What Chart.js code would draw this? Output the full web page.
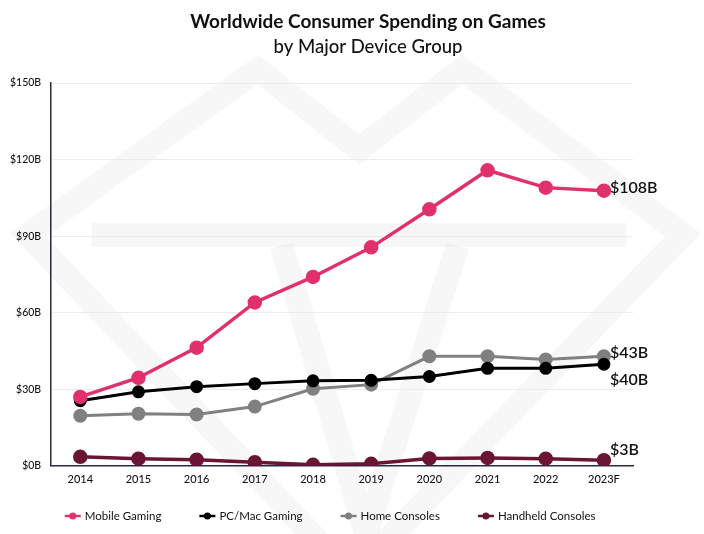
<!DOCTYPE html>
<html>
<head>
<meta charset="utf-8">
<script src="https://cdn.jsdelivr.net/npm/chart.js@4"></script>
<style>
  html, body { margin: 0; padding: 0; background: #fff; }
  #wrap { width: 704px; height: 534px; position: relative; }
</style>
</head>
<body>
<div id="wrap"><canvas id="chart"></canvas></div>
<script>
const years = ["2014", "2015", "2016", "2017", "2018", "2019", "2020", "2021", "2022", "2023F"];

const mobile   = [27, 34.5, 46.3, 64, 74, 85.6, 100.5, 115.8, 109, 107.8];
const pcMac    = [25.5, 29, 31, 32.2, 33.3, 33.5, 35, 38.2, 38.2, 39.8];
const home     = [19.6, 20.4, 20.1, 23.2, 30.2, 31.8, 42.9, 42.9, 41.7, 42.9];
const handheld = [3.5, 2.8, 2.4, 1.4, 0.4, 0.8, 2.9, 3.1, 2.8, 2.2];

const endLabels = ["$108B", "$40B", "$43B", "$3B"];
const yTicks = [0, 30, 60, 90, 120, 150];

const titleText = "Worldwide Consumer Spending on Games";
const subtitleText = "by Major Device Group";

const FONT = "Lato, 'Open Sans', sans-serif";

// two-line heading, centred a little right of the page middle like the original
const headingPlugin = {
    id: "heading",
    afterDraw(chart) {
        const ctx = chart.ctx;
        const cx = chart.width / 2 + 16;
        ctx.save();
        ctx.fillStyle = "#111";
        ctx.textAlign = "center";
        ctx.textBaseline = "middle";
        ctx.font = "bold 19px " + FONT;
        ctx.fillText(titleText, cx, 22);
        ctx.font = "500 18.5px " + FONT;
        ctx.fillText(subtitleText, cx, 47);
        ctx.restore();
    }
};

// end of line value labels
const endLabelPlugin = {
    id: "endLabels",
    afterDatasetsDraw(chart) {
        const ctx = chart.ctx;
        const offsets = [-3, 16, -3, -10];
        ctx.save();
        ctx.font = "600 16px " + FONT;
        ctx.fillStyle = "#111";
        ctx.textBaseline = "middle";
        chart.data.datasets.forEach((ds, i) => {
            const meta = chart.getDatasetMeta(i);
            const pt = meta.data[meta.data.length - 1];
            ctx.fillText(endLabels[i], pt.x + 6, pt.y + offsets[i]);
        });
        ctx.restore();
    }
};

// legend row under the axis: short line with a dot, then the name
const bottomLegend = {
    id: "bottomLegend",
    afterDraw(chart) {
        const ctx = chart.ctx;
        const gap = 38, icon = 16, textGap = 4;
        const y = chart.height - 18;
        ctx.save();
        ctx.font = "11.5px " + FONT;
        ctx.textBaseline = "middle";
        const sets = chart.data.datasets;
        const widths = sets.map(ds => icon + textGap + ctx.measureText(ds.label).width);
        const total = widths.reduce((a, b) => a + b, 0) + gap * (sets.length - 1);
        let x = (chart.chartArea.left + chart.chartArea.right) / 2 - total / 2 - 12;
        sets.forEach((ds, i) => {
            ctx.strokeStyle = ds.borderColor;
            ctx.fillStyle = ds.borderColor;
            ctx.lineWidth = 2.5;
            ctx.beginPath();
            ctx.moveTo(x, y);
            ctx.lineTo(x + icon, y);
            ctx.stroke();
            ctx.beginPath();
            ctx.arc(x + icon / 2, y, 3.5, 0, Math.PI * 2);
            ctx.fill();
            ctx.fillStyle = "#111";
            ctx.fillText(ds.label, x + icon + textGap, y);
            x += widths[i] + gap;
        });
        ctx.restore();
    }
};

// faint diamond watermark behind everything
const watermarkPlugin = {
    id: "watermark",
    beforeDraw(chart) {
        const ctx = chart.ctx;
        const w = chart.width, h = chart.height;
        const P = (fx, fy) => [w * fx, h * fy];
        const path = (pts, close) => {
            ctx.beginPath();
            pts.forEach((p, i) => i ? ctx.lineTo(p[0], p[1]) : ctx.moveTo(p[0], p[1]));
            if (close) ctx.closePath();
            ctx.stroke();
        };
        ctx.save();
        ctx.strokeStyle = "rgba(0,0,0,0.03)";
        ctx.lineWidth = 24;
        ctx.lineJoin = "miter";
        path([P(0.04, 0.44), P(0.366, 0.13), P(0.51, 0.28), P(0.656, 0.13), P(0.97, 0.44), P(0.5, 1.08)], true);
        path([P(0.13, 0.44), P(0.89, 0.44)]);
        path([P(0.40, 0.46), P(0.52, 1.0), P(0.65, 0.46)]);
        ctx.restore();
    }
};

function line(label, data, color, radius, width) {
    return {
        label,
        data,
        borderColor: color,
        backgroundColor: color,
        pointBackgroundColor: color,
        pointBorderColor: color,
        borderWidth: width,
        pointRadius: radius,
        pointHoverRadius: radius,
        tension: 0
    };
}

new Chart(document.getElementById("chart"), {
    type: "line",
    data: {
        labels: years,
        datasets: [
            line("Mobile Gaming", mobile, "#e0316c", 5.5, 3.5),
            line("PC/Mac Gaming", pcMac, "#000000", 5, 3),
            line("Home Consoles", home, "#808080", 5.5, 3),
            line("Handheld Consoles", handheld, "#6b1535", 5.5, 3.5)
        ]
    },
    options: {
        responsive: true,
        maintainAspectRatio: false,
        animation: false,
        layout: { padding: { left: 0, right: 71, top: 83, bottom: 41 } },
        plugins: {
            legend: { display: false },
            tooltip: { enabled: false }
        },
        scales: {
            x: {
                offset: true,
                grid: { display: false, drawTicks: false },
                border: { color: "#2b2845", width: 1.5 },
                ticks: {
                    color: "#111",
                    font: { family: FONT, size: 11, weight: "500" },
                    padding: 7
                }
            },
            y: {
                min: 0,
                max: 150,
                afterBuildTicks(axis) {
                    axis.ticks = yTicks.map(v => ({ value: v }));
                },
                grid: { color: "#ececec", drawTicks: false },
                border: { color: "#2b2845", width: 1.5 },
                ticks: {
                    color: "#111",
                    font: { family: FONT, size: 10.5, weight: "500" },
                    padding: 10,
                    callback: v => "$" + v + "B"
                }
            }
        }
    },
    plugins: [watermarkPlugin, endLabelPlugin, bottomLegend, headingPlugin]
});
</script>
</body>
</html>
